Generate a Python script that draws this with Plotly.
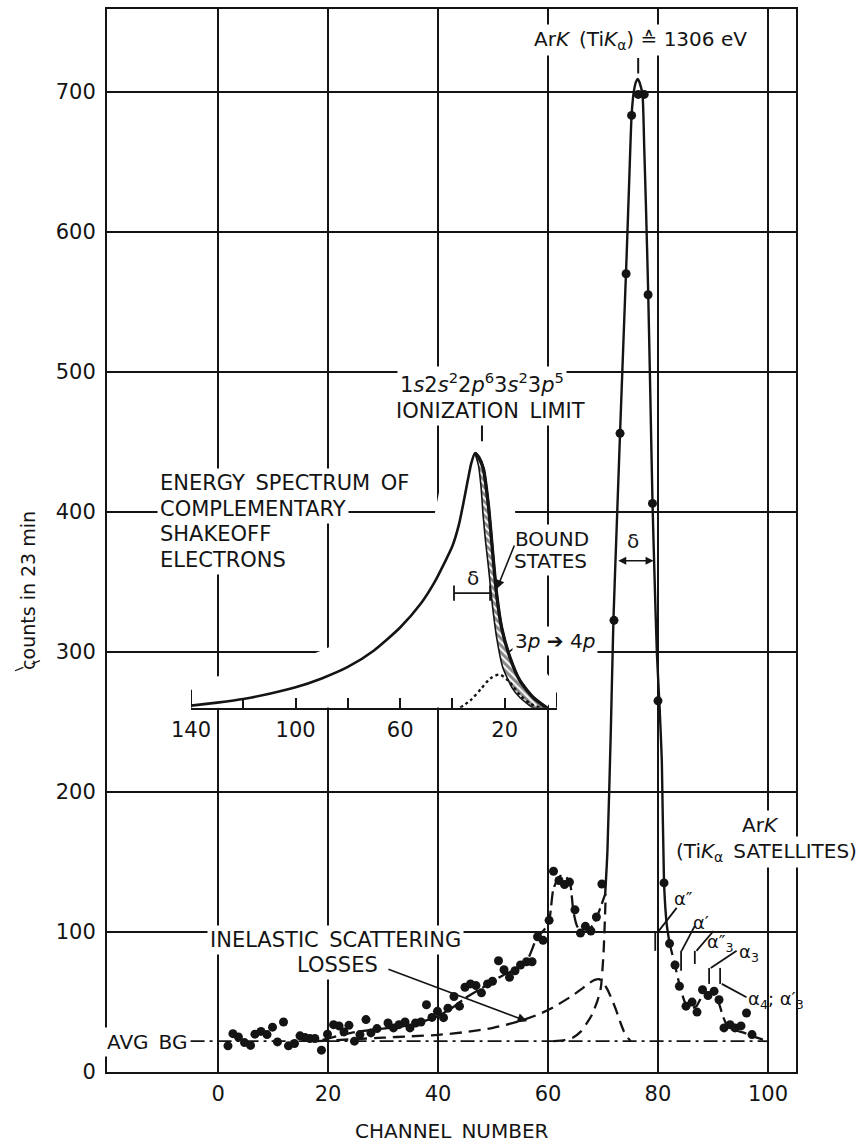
import plotly.graph_objects as go

# ------------------------------------------------------------------ data (main spectrum)
channel = [1.8, 2.7, 3.7, 4.8, 5.9, 6.7, 7.8, 8.9, 9.9, 10.8,
           11.9, 12.8, 13.9, 14.9, 15.8, 16.7, 17.6, 18.8, 19.9, 21,
           22, 22.9, 23.8, 24.8, 25.8, 26.9, 27.8, 28.9, 30.9, 31.9,
           32.9, 34, 34.9, 35.9, 36.9, 37.9, 38.9, 39.9, 41, 41.8,
           42.9, 43.9, 44.9, 45.9, 46.9, 47.9, 49, 49.9, 51, 52,
           53, 54, 55, 56.1, 57.1, 58.1, 59.1, 60.2, 61, 62,
           63, 63.9, 64.9, 65.9, 66.8, 67.8, 68.8, 69.8,
           72.0, 73.1, 74.2, 75.2, 76.4, 77.5, 78.2, 79.0, 80.0,
           81.1, 82.1, 83.1, 83.9, 85.1, 86.2, 87.1, 88.1, 89.1, 90.2,
           91.1, 92.0, 93.1, 94.0, 95.1, 96.1, 97.1]
counts = [18.7, 27.4, 25, 21, 19, 27, 29, 26.7, 32, 21.5,
          35.7, 18.7, 20.3, 25.8, 24.6, 23.9, 23.9, 15.6, 27, 33.8,
          32.9, 28.6, 33.3, 22, 26.7, 37.4, 27.9, 31, 35, 31.5,
          33.8, 35.7, 31.5, 35, 35.7, 48, 39, 43.3, 38.8, 45.6,
          53.9, 47, 60.5, 62.9, 61.7, 56.5, 62.9, 64.8, 79.4, 73,
          67.6, 72.3, 76.4, 78.7, 78.7, 96.6, 94, 108.3, 143.3, 136.7,
          133.8, 135.6, 115.8, 99.2, 104, 100.7, 110.7, 134.2,
          322.5, 456, 570, 683, 698, 698, 555, 406, 265,
          135, 91.7, 76.4, 61.2, 47, 49.9, 42.8, 58.7, 54.6, 57.7,
          51.6, 31.5, 33.8, 31.5, 32.9, 42.1, 26.7]

# fitted curve: dashed part left of the main line
fit_left_ch = [19, 22, 25, 30, 35, 38, 40, 43, 45, 48, 50, 52, 54, 55, 56.5, 58,
               59.2, 60.2, 61, 62.2, 63.3, 64, 64.6, 65.2, 65.8, 66.7, 67.6, 68.6,
               69.5, 70.4]
fit_left_counts = [23, 26, 28.5, 31, 33.5, 37, 40, 47, 53, 60, 65, 69.5, 73, 75, 82, 96,
                   101, 108, 131, 140, 139, 135, 115, 105, 100.7, 100, 102, 108,
                   117, 127]
# fitted curve: solid main line ArK (TiKalpha)
peak_ch = [70.4, 70.8, 71.4, 71.9, 72.5, 73.1, 73.7, 74.3, 74.8, 75.2, 75.6, 76.0,
           76.3, 76.7, 77.2, 77.5, 77.8, 78.2, 78.6, 79.0, 79.4, 79.8, 80.3, 80.7,
           81.1, 81.6, 82.1]
peak_counts = [127, 157, 240, 323, 390, 456, 520, 583, 640, 683, 700, 707,
               709, 706, 697, 660, 620, 560, 485, 407, 350, 299, 260, 222,
               135, 105, 92]
# fitted curve: dashed part through the satellites
fit_right_ch = [82.1, 83.1, 84, 85, 86, 87, 88, 89, 90, 91, 91.8, 92.6, 94, 96, 98, 100]
fit_right_counts = [92, 76, 61, 49, 45.5, 47, 54, 57, 56, 50, 40, 33, 30, 27.5, 24.5, 22]
# inelastic scattering losses (dashed)
inelastic_ch = [18, 25, 30, 35, 40, 45, 50, 55, 58.5, 61, 64, 66, 67.5, 68.5, 69.3,
                70, 70.8, 71.7, 72.5, 73.2, 73.8, 74.4, 75]
inelastic_counts = [22, 23.5, 24.5, 25.5, 26.5, 28.5, 31.5, 36.5, 41.5, 46.3, 53.4, 59,
                    63.5, 65.8, 66.3, 64, 59, 51, 43, 35, 29, 25, 22.2]
# low-energy tail of the main line (dashed)
peak_tail_ch = [61, 63, 64.5, 66, 67, 68, 69, 69.6, 70.1, 70.5]
peak_tail_counts = [22, 22.8, 24.5, 29, 34.5, 41, 51, 60, 85, 127]
# average background (dash-dot)
bg_ch = [-5, 100]
bg_counts = [22, 22]

x_ticks = [0, 20, 40, 60, 80, 100]
y_ticks = [0, 100, 200, 300, 400, 500, 600, 700]

# ------------------------------------------------------------------ data (inset)
inset_eV = [140, 130, 120, 110, 100, 90, 80, 70, 60, 52, 47, 43, 40, 37.5, 35.5, 34,
            32.8, 31.4, 30, 28.2, 26.3, 24.4, 23.1, 21.2, 18.0, 14.2, 9.1, 4.0]
inset_int = [0.008, 0.02, 0.034, 0.055, 0.08, 0.115, 0.16, 0.225, 0.315, 0.41, 0.49,
             0.57, 0.635, 0.72, 0.82, 0.9, 0.96, 1.0, 0.985, 0.94, 0.80, 0.585, 0.446,
             0.315, 0.197, 0.106, 0.04, 0.0]
bound_inner_eV = [31.2, 30.0, 29.0, 28.3, 27.4, 26.2, 24.9, 23.0, 20.8, 17.3, 14.2, 9.2]
bound_inner_int = [0.995, 0.95, 0.86, 0.76, 0.66, 0.55, 0.42, 0.27, 0.16, 0.08, 0.04, 0.0]
exc_eV = [37, 33, 29, 25.5, 22, 18.5, 14.2, 10, 6.5]
exc_int = [0, 0.03, 0.075, 0.115, 0.13, 0.105, 0.05, 0.015, 0]
inset_ticks = [140, 120, 100, 80, 60, 40, 20, 0]
inset_ticktext = ["140", "", "100", "", "60", "", "20", ""]

# ------------------------------------------------------------------ style
INK = "#141414"
FONT = "DejaVu Sans"
SP = "\u2002"

fig = go.Figure()

# main-plot traces
fig.add_trace(go.Scatter(x=bg_ch, y=bg_counts, mode="lines",
                         line=dict(color=INK, width=1.8, dash="14px,5px,3px,5px")))
fig.add_trace(go.Scatter(x=inelastic_ch, y=inelastic_counts, mode="lines",
                         line=dict(color=INK, width=2.3, dash="12px,7px", shape="spline", smoothing=0.6)))
fig.add_trace(go.Scatter(x=peak_tail_ch, y=peak_tail_counts, mode="lines",
                         line=dict(color=INK, width=2.3, dash="12px,7px", shape="spline", smoothing=0.6)))
fig.add_trace(go.Scatter(x=fit_left_ch, y=fit_left_counts, mode="lines",
                         line=dict(color=INK, width=2.3, dash="14px,5px", shape="spline", smoothing=0.6)))
fig.add_trace(go.Scatter(x=peak_ch, y=peak_counts, mode="lines",
                         line=dict(color=INK, width=2.4, shape="spline", smoothing=0.5)))
fig.add_trace(go.Scatter(x=fit_right_ch, y=fit_right_counts, mode="lines",
                         line=dict(color=INK, width=2.3, dash="12px,6px", shape="spline", smoothing=0.6)))
fig.add_trace(go.Scatter(x=channel, y=counts, mode="markers",
                         marker=dict(color=INK, size=9, line=dict(width=0))))

# inset traces
fig.add_trace(go.Scatter(x=inset_eV, y=inset_int, xaxis="x2", yaxis="y2", mode="lines",
                         line=dict(color="white", width=52, shape="spline", smoothing=0.6)))
fig.add_trace(go.Scatter(x=inset_eV, y=inset_int, xaxis="x2", yaxis="y2", mode="lines",
                         fill="tozeroy", fillcolor="white",
                         line=dict(color=INK, width=2.6, shape="spline", smoothing=0.6)))
peak_idx = inset_int.index(max(inset_int))
hatch_x = inset_eV[peak_idx:] + bound_inner_eV[::-1]
hatch_y = inset_int[peak_idx:] + bound_inner_int[::-1]
fig.add_trace(go.Scatter(x=hatch_x, y=hatch_y, xaxis="x2", yaxis="y2", mode="lines",
                         fill="toself", fillcolor="white",
                         fillpattern=dict(shape="\\", size=5, solidity=0.6, fgcolor=INK, bgcolor="white"),
                         line=dict(color=INK, width=1.6, shape="spline", smoothing=0.5)))
fig.add_trace(go.Scatter(x=inset_eV[peak_idx:], y=inset_int[peak_idx:], xaxis="x2", yaxis="y2",
                         mode="lines", line=dict(color=INK, width=3.4, shape="spline", smoothing=0.6)))
fig.add_trace(go.Scatter(x=exc_eV, y=exc_int, xaxis="x2", yaxis="y2", mode="lines",
                         line=dict(color=INK, width=2.4, dash="dot", shape="spline", smoothing=0.8)))

# ------------------------------------------------------------------ layout
W, H = 868, 1145
ML, MR, MT, MB = 107, 72, 7, 73
pw, ph = W - ML - MR, H - MT - MB
Y_MAX = 759.0
Y_SCALE = ph / Y_MAX


def px_x(p):
    return (p - ML) / pw


def px_y(p):
    return (H - MB - p) / ph


def py_val(p):
    return (H - MB - p) / Y_SCALE


axis_common = dict(showgrid=True, gridcolor=INK, gridwidth=1.5, showline=True, mirror=True,
                   linecolor=INK, linewidth=2, zeroline=False, ticks="",
                   tickfont=dict(family=FONT, size=21, color=INK))

inset_x0, inset_x1 = px_x(191), px_x(557)
inset_y0, inset_y1 = px_y(707), px_y(412)
y2_top = (707 - 412) / 255.0

fig.update_layout(
    width=W, height=H, margin=dict(l=ML, r=MR, t=MT, b=MB),
    paper_bgcolor="white", plot_bgcolor="rgba(0,0,0,0)", showlegend=False,
    xaxis=dict(range=[-20.2, 105.1], tickvals=x_ticks, ticklabelstandoff=2, **axis_common),
    yaxis=dict(range=[0, Y_MAX], tickvals=y_ticks, ticklabelstandoff=5, **axis_common),
    xaxis2=dict(domain=[inset_x0, inset_x1], anchor="y2", range=[140, 0], showgrid=False,
                zeroline=False, showline=True, linecolor=INK, linewidth=2.2,
                ticks="inside", ticklen=10, tickwidth=2, tickcolor=INK,
                tickvals=inset_ticks, ticktext=inset_ticktext, ticklabelstandoff=2,
                tickfont=dict(family=FONT, size=21, color=INK)),
    yaxis2=dict(domain=[inset_y0, inset_y1], anchor="x2", range=[0, y2_top], visible=False),
)

shapes = []
# white masks hiding the grid behind the inset
shapes.append(dict(type="rect", xref="paper", yref="paper", layer="between",
                   x0=px_x(283), x1=px_x(545), y0=px_y(775), y1=px_y(645),
                   fillcolor="white", line=dict(width=0)))
shapes.append(dict(type="rect", xref="paper", yref="paper", layer="between",
                   x0=px_x(183), x1=px_x(283), y0=px_y(775), y1=px_y(672),
                   fillcolor="white", line=dict(width=0)))


def seg(x0, y0, x1, y1, xref="x", yref="y", width=1.8, dash="solid"):
    shapes.append(dict(type="line", xref=xref, yref=yref, x0=x0, y0=y0, x1=x1, y1=y1,
                       line=dict(color=INK, width=width, dash=dash)))


# peak marker under the top label
seg(76.4, 713, 76.4, 724, width=2)
# satellite markers and leaders
seg(79.5, 86.5, 79.5, 99.5)
seg(79.9, 99.5, 83.4, 117.2)
seg(84.2, 72.3, 84.2, 86.5)
seg(84.3, 86.5, 86.7, 104.3)
seg(86.7, 77.1, 86.7, 86.5)
seg(87.0, 86.5, 90.1, 100.7)
seg(89.3, 62.9, 89.3, 74.3)
seg(91.3, 62.9, 91.3, 74.3)
seg(89.6, 74.3, 94.3, 86.5)
seg(91.6, 62.9, 96.1, 53.4)
# inset decorations
seg(28.7, 1.047, 28.7, 1.118, xref="x2", yref="y2", width=2)
seg(39.4, 0.45, 25.6, 0.45, xref="x2", yref="y2", width=1.8)
seg(39.4, 0.42, 39.4, 0.48, xref="x2", yref="y2", width=1.8)
seg(25.6, 0.42, 25.6, 0.48, xref="x2", yref="y2", width=1.8)
seg(13.5, 0.256, 18.8, 0.216, xref="x2", yref="y2", width=1.6)
seg(140, 0, 140, 0.07, xref="x2", yref="y2", width=2)
seg(0, 0, 0, 0.06, xref="x2", yref="y2", width=2)
# small stray leader near the y label
seg(px_x(15), px_y(670), px_x(47), px_y(657), xref="paper", yref="paper", width=1.3, dash="dash")
fig.update_layout(shapes=shapes)

annotations = []


def txt(text, x, y, xref="x", yref="y", size=20, xanchor="center", bg="white", angle=0, pad=2):
    annotations.append(dict(text=text, x=x, y=y, xref=xref, yref=yref, showarrow=False,
                            xanchor=xanchor, yanchor="middle", textangle=angle,
                            font=dict(family=FONT, size=size, color=INK),
                            bgcolor=bg, borderpad=pad))


NOBG = "rgba(0,0,0,0)"
txt("Ar<i>K</i>" + SP + "(Ti<i>K</i><sub>α</sub>) ≙ 1306 eV", 76.9, py_val(38))
txt("1<i>s</i>2<i>s</i><sup>2</sup>2<i>p</i><sup>6</sup>3<i>s</i><sup>2</sup>3<i>p</i><sup>5</sup>",
    48.0, py_val(382), size=21)
txt("IONIZATION" + SP + "LIMIT", 49.5, py_val(410), size=21)
txt("ENERGY" + SP + "SPECTRUM" + SP + "OF", -11.1, py_val(482), xanchor="left", size=21)
txt("COMPLEMENTARY", -11.1, py_val(508), xanchor="left", size=21)
txt("SHAKEOFF", -11.1, py_val(533), xanchor="left", size=21)
txt("ELECTRONS", -11.1, py_val(559), xanchor="left", size=21)
txt("BOUND", 60.7, py_val(538))
txt("STATES", 60.5, py_val(560))
txt("3<i>p</i> ➔ 4<i>p</i>", 61.3, py_val(640))
txt("δ", 75.5, py_val(540), bg=NOBG)
txt("δ", 32.1, 0.51, xref="x2", yref="y2", bg=NOBG)
txt("Δ<i>E</i>," + SP + "ENERGY" + SP + "LOSS" + SP + "(eV)", 73.8, -0.208, xref="x2", yref="y2",
    size=21)
txt("INELASTIC" + SP + "SCATTERING", 21.3, py_val(940), size=21)
txt("LOSSES", 21.8, py_val(965), size=21)
txt("AVG" + SP + "BG", -12.9, py_val(1042))
txt("Ar<i>K</i>", 98.7, py_val(825))
txt("(Ti<i>K</i><sub>α</sub>" + SP + "SATELLITES)", 99.8, py_val(852))
txt("α″", 84.7, py_val(898), bg=NOBG, size=18, pad=0)
txt("α′", 87.8, py_val(922), bg=NOBG, size=18, pad=0)
txt("α″<sub>3</sub>", 91.4, py_val(943), bg=NOBG, size=18, pad=0)
txt("α<sub>3</sub>", 96.6, py_val(953), bg=NOBG, size=18, pad=0)
txt("α<sub>4</sub>; α′<sub>3</sub>", 101.5, py_val(1000), bg=NOBG, size=18, pad=0)
txt("counts in 23 min", px_x(28), px_y(590), xref="paper", yref="paper", size=19, angle=-90,
    bg=NOBG)
txt("CHANNEL" + SP + "NUMBER", 0.5, px_y(1131), xref="paper", yref="paper", size=20, bg=NOBG)

# arrows
annotations.append(dict(x=79.2, y=365, ax=72.5, ay=365, xref="x", yref="y", axref="x", ayref="y",
                        text="", showarrow=True, arrowhead=2, arrowside="end+start",
                        arrowsize=1, arrowwidth=1.6, arrowcolor=INK))
annotations.append(dict(x=56.2, y=36.2, ax=30.7, ay=73.8, xref="x", yref="y", axref="x", ayref="y",
                        text="", showarrow=True, arrowhead=2, arrowsize=1.2, arrowwidth=1.6,
                        arrowcolor=INK))
annotations.append(dict(x=23.0, y=0.467, ax=16.1, ay=0.643, xref="x2", yref="y2", axref="x2",
                        ayref="y2", text="", showarrow=True, arrowhead=2, arrowsize=1.1,
                        arrowwidth=1.6, arrowcolor=INK))
fig.update_layout(annotations=annotations)

fig.write_html("out.html")
